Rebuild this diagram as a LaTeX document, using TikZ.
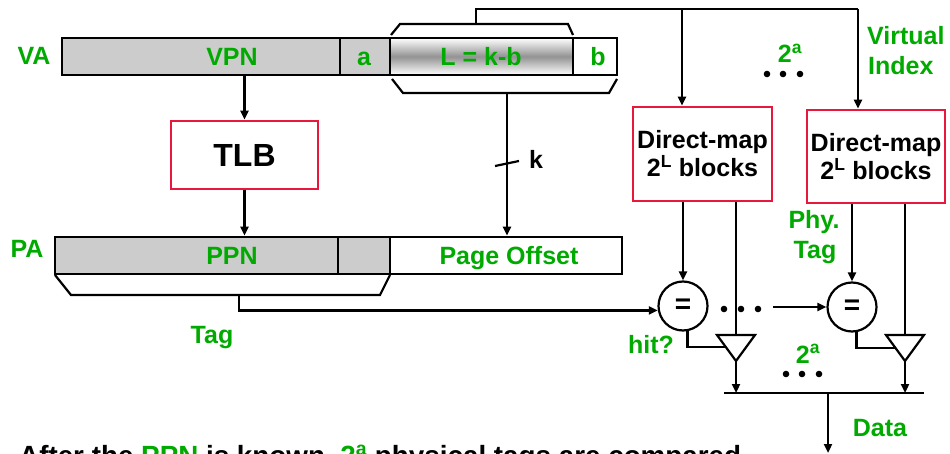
\documentclass[tikz,border=0pt]{standalone}
\usepackage{fontspec}
\setmainfont{Liberation Sans}
\usetikzlibrary{arrows.meta}
\definecolor{labgreen}{RGB}{0,170,0}
\definecolor{boxred}{RGB}{232,24,60}
\definecolor{fieldgray}{RGB}{204,204,204}
\begin{document}
\begin{tikzpicture}[x=1pt,y=-1pt,
  font=\fontsize{25}{28}\selectfont\bfseries,
  wire/.style={line width=2.2pt},
  arr/.style={wire,-{Triangle[length=9pt,width=8pt]}},
  field/.style={draw,line width=2.6pt,inner sep=0pt,minimum height=37pt},
  unit/.style={draw=boxred,line width=2.8pt,fill=white,inner sep=0pt,align=center},
  lbl/.style={text=labgreen,inner sep=0pt,anchor=base},
  cmp/.style={draw,circle,line width=2.2pt,minimum size=49pt,inner sep=0pt,
              font=\fontsize{28}{30}\selectfont\bfseries},
  bullet/.style={fill=black}
]
\useasboundingbox (0,0) rectangle (950,454);

% ---- virtual address fields ----
\node[field,fill=fieldgray,minimum width=278pt] (vpn) at (201,56.5) {};
\node[field,fill=fieldgray,minimum width=50pt] (afld) at (365,56.5) {};
\node[field,top color=white,bottom color=white,middle color=gray!85,minimum width=183pt] (lfld) at (481.5,56.5) {};
\node[field,fill=white,minimum width=44pt] (bfld) at (595,56.5) {};
\node[lbl] (valbl) at (34,65) {VA};
\node[lbl] (vpntx) at (232,66) {VPN};
\node[lbl] (atx) at (364,66) {a};
\node[lbl] (ltx) at (481,66) {L = k-b};
\node[lbl] (btx) at (598,66) {b};

% ---- physical address fields ----
\node[field,fill=fieldgray,minimum width=283pt] (ppn) at (196.5,255.5) {};
\node[field,fill=fieldgray,minimum width=52pt] (ppnlo) at (364,255.5) {};
\node[field,fill=white,minimum width=232pt] (po) at (506,255.5) {};
\node[lbl] (palbl) at (27,258) {PA};
\node[lbl] (ppntx) at (232,265) {PPN};
\node[lbl] (potx) at (509,265) {Page Offset};

% ---- TLB and cache arrays ----
\node[unit,minimum width=147pt,minimum height=68pt,font=\fontsize{32}{36}\selectfont\bfseries] (tlb) at (244.5,155) {TLB};
\node[unit,minimum width=139pt,minimum height=94pt] (dm1) at (702.5,154) {Direct-map\\2\textsuperscript{L} blocks};
\node[unit,minimum width=138pt,minimum height=93pt] (dm2) at (876,156.5) {Direct-map\\2\textsuperscript{L} blocks};

% ---- comparators ----
\node[cmp] (cmp1) at (683,306) {=};
\node[cmp] (cmp2) at (852,307) {=};

% ---- tri-state drivers ----
\coordinate (t1top) at (736,335);
\coordinate (t1apex) at (736,361);
\coordinate (t1in) at (726,347);
\coordinate (t2top) at (905,335);
\coordinate (t2apex) at (905,361);
\coordinate (t2in) at (895,348);
\draw[wire,line join=miter] (717,335) -- (755,335) -- (t1apex) -- cycle;
\draw[wire,line join=miter] (886,335) -- (924,335) -- (t2apex) -- cycle;

% ---- output bus ----
\coordinate (busL) at (724,393);
\coordinate (busR) at (924,393);
\coordinate (busmid) at (828,393);
\coordinate (dataout) at (828,453);
\draw[line width=2.6pt] (busL) -- (busR);

% ---- VPN -> TLB -> PPN ----
\draw[arr] (tlb.north |- vpn.south) -- (tlb.north);
\draw[arr] (tlb.south) -- (tlb.south |- ppn.north);

% ---- virtual index feed ----
\draw[wire] (391,35) -- (400,24) -- (568,24) -- (573,35);
\coordinate (vidx) at (476,24);
\coordinate (feedA) at (682,9);
\coordinate (feedB) at (858,9);
\draw[wire] (vidx) |- (feedB);
\draw[arr] (feedA) -- (feedA |- dm1.north);
\draw[arr] (feedB) -- (feedB |- dm2.north);

% ---- page offset (k bits) ----
\draw[wire] (392,79) -- (403,93) -- (609,93) -- (617,79);
\coordinate (offs) at (507,93);
\draw[arr] (offs) -- (offs |- po.north);
\draw[wire] (495,166) -- (519,161);
\node[inner sep=0pt,anchor=base west] (ktx) at (529,169) {k};

% ---- physical tag ----
\draw[wire] (55,275) -- (71,295) -- (380,295) -- (390,275);
\coordinate (ptag) at (239,295);
\draw[arr] (ptag) |- (cmp1.190);
\node[lbl] (tagtx) at (212,343) {Tag};

% ---- way 1 ----
\draw[arr] (cmp1.north |- dm1.south) -- (cmp1.north);
\draw[wire] (t1top |- dm1.south) -- (t1top);
\draw[wire] (cmp1.-80) |- (t1in);
\draw[arr] (t1apex) -- (t1apex |- busL);

% ---- way 2^a ----
\coordinate (relay) at (773,307);
\draw[arr] (relay) -- (cmp2.west);
\draw[arr] (cmp2.north |- dm2.south) -- (cmp2.north);
\draw[wire] (t2top |- dm2.south) -- (t2top);
\draw[wire] (cmp2.-80) |- (t2in);
\draw[arr] (t2apex) -- (t2apex |- busR);

% ---- data out ----
\draw[arr] (busmid) -- (dataout);

% ---- ellipses ----
\foreach \px in {767,783,800} \fill[bullet] (\px,74) circle (3.3);
\foreach \px in {724,741,758} \fill[bullet] (\px,309) circle (3.3);
\foreach \px in {786,802,819} \fill[bullet] (\px,374) circle (3.3);

% ---- green annotations ----
\node[lbl] (waysA) at (790,63) {2\textsuperscript{a}};
\node[lbl] (waysB) at (808,363) {2\textsuperscript{a}};
\node[lbl,anchor=base west] (virt) at (867,45) {Virtual};
\node[lbl,anchor=base west] (indx) at (868,75) {Index};
\node[lbl] (phy) at (814,229) {Phy.};
\node[lbl] (phytag) at (815,259) {Tag};
\node[lbl] (hit) at (651,353) {hit?};
\node[lbl] (datatx) at (880,436) {Data};

% ---- caption line ----
\node[inner sep=0pt,anchor=base west,font=\fontsize{27.8}{30}\selectfont\bfseries] (caption) at (19,465)
  {After the {\color{labgreen}PPN} is known, {\color{labgreen}2\textsuperscript{a}} physical tags are compared};
\end{tikzpicture}
\end{document}
